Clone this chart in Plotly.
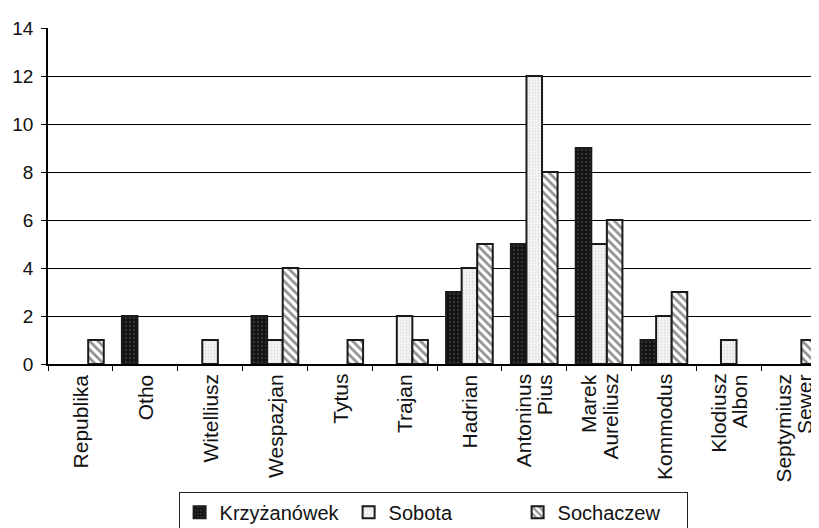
import plotly.graph_objects as go

categories = ["Republika", "Otho", "Witelliusz", "Wespazjan", "Tytus", "Trajan",
              "Hadrian", "Antoninus Pius", "Marek Aureliusz", "Kommodus",
              "Klodiusz Albon", "Septymiusz Sewer"]
label_lines = [["Republika"], ["Otho"], ["Witelliusz"], ["Wespazjan"], ["Tytus"], ["Trajan"],
               ["Hadrian"], ["Antoninus", "Pius"], ["Marek", "Aureliusz"], ["Kommodus"],
               ["Klodiusz", "Albon"], ["Septymiusz", "Sewer"]]
krzyzanowek = [0, 2, 0, 2, 0, 0, 3, 5, 9, 1, 0, 0]
sobota = [0, 0, 1, 1, 0, 2, 4, 12, 5, 2, 1, 0]
sochaczew = [1, 0, 0, 4, 1, 1, 5, 8, 6, 3, 0, 1]
y_ticks = [0, 2, 4, 6, 8, 10, 12, 14]

def nz(v):
    return [x if x != 0 else None for x in v]

fig = go.Figure()
fig.add_bar(name="Krzyżanówek", x=categories, y=nz(krzyzanowek),
            marker=dict(color="#111111", line=dict(color="#1a1a1a", width=2),
                        pattern=dict(shape=".", fgcolor="#555555", bgcolor="#111111", size=4, solidity=0.3)))
fig.add_bar(name="Sobota", x=categories, y=nz(sobota),
            marker=dict(color="white", line=dict(color="#1a1a1a", width=2),
                        pattern=dict(shape=".", fgcolor="#c4c4c4", bgcolor="#f6f6f6", size=3, solidity=0.3)))
fig.add_bar(name="Sochaczew", x=categories, y=nz(sochaczew),
            marker=dict(color="white", line=dict(color="#1a1a1a", width=2),
                        pattern=dict(shape="\\", fgcolor="#222222", bgcolor="white", size=6, solidity=0.45)))

# category labels, rotated, with tight line spacing
for cat, lines in zip(categories, label_lines):
    n = len(lines)
    for i, line in enumerate(lines):
        shift = (i - (n - 1) / 2) * 21
        fig.add_annotation(x=cat, xref="x", y=0, yref="paper", text=line, showarrow=False,
                           textangle=-90, xanchor="center", yanchor="top", yshift=-9,
                           xshift=shift, borderpad=0,
                           font=dict(size=21, family="Liberation Sans, Arial, sans-serif", color="#111111"))

fig.update_layout(
    width=819, height=528,
    margin=dict(l=40, r=1, t=20, b=172),
    paper_bgcolor="white", plot_bgcolor="white",
    barmode="group", bargap=0.28, bargroupgap=0,
    font=dict(family="Liberation Sans, Arial, sans-serif", size=19, color="#111111"),
    showlegend=True,
    legend=dict(orientation="h", x=0.495, xanchor="center", y=-0.38, yanchor="top",
                bordercolor="#222222", borderwidth=1, bgcolor="white",
                font=dict(size=20), itemwidth=30, entrywidth=124, traceorder="normal"),
    xaxis=dict(type="category", showticklabels=False, showline=True, linecolor="black", linewidth=2,
               ticks="outside", tickson="boundaries", ticklen=5, tickcolor="black",
               showgrid=False),
    yaxis=dict(range=[0, 14], tickvals=y_ticks, showline=True, linecolor="black", linewidth=1.5,
               ticks="outside", ticklen=5, tickcolor="black", showgrid=True, ticklabelstandoff=4,
               gridcolor="black", gridwidth=1, zeroline=False, tickfont=dict(size=19)),
)

fig.write_html("out.html")
